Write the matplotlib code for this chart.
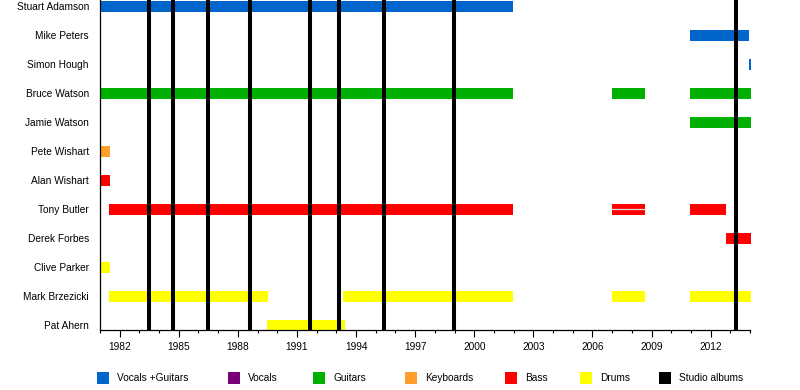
import matplotlib
matplotlib.use("Agg")
import matplotlib.pyplot as plt
from matplotlib.patches import Rectangle

plt.rcParams['font.family'] = ['Liberation Sans', 'DejaVu Sans']

# ------------------------------
# data
# ------------------------------
members = ["Stuart Adamson", "Mike Peters", "Simon Hough", "Bruce Watson",
           "Jamie Watson", "Pete Wishart", "Alan Wishart", "Tony Butler",
           "Derek Forbes", "Clive Parker", "Mark Brzezicki", "Pat Ahern"]

# (member, start, end, role)
periods = [
    ("Stuart Adamson", 1981.0, 2001.98, "Vocals +Guitars"),
    ("Mike Peters", 2010.93, 2013.93, "Vocals +Guitars"),
    ("Simon Hough", 2013.95, 2014.05, "Vocals +Guitars"),
    ("Bruce Watson", 1981.0, 2001.98, "Guitars"),
    ("Bruce Watson", 2007.0, 2008.69, "Guitars"),
    ("Bruce Watson", 2010.93, 2014.05, "Guitars"),
    ("Jamie Watson", 2010.93, 2014.05, "Guitars"),
    ("Pete Wishart", 1981.0, 1981.5, "Keyboards"),
    ("Alan Wishart", 1981.0, 1981.5, "Bass"),
    ("Tony Butler", 1981.45, 2001.98, "Bass"),
    ("Tony Butler", 2007.0, 2008.69, "Bass"),
    ("Tony Butler", 2010.93, 2012.8, "Bass"),
    ("Derek Forbes", 2012.78, 2014.05, "Bass"),
    ("Clive Parker", 1981.0, 1981.5, "Drums"),
    ("Mark Brzezicki", 1981.45, 1989.52, "Drums"),
    ("Mark Brzezicki", 1993.35, 2001.98, "Drums"),
    ("Mark Brzezicki", 2007.0, 2008.69, "Drums"),
    ("Mark Brzezicki", 2010.93, 2014.05, "Drums"),
    ("Pat Ahern", 1989.47, 1993.45, "Drums"),
]

# studio album release dates
albums = [1983.5, 1984.72, 1986.5, 1988.63, 1991.67, 1993.13, 1995.43, 1998.98, 2013.27]

roles = ["Vocals +Guitars", "Vocals", "Guitars", "Keyboards", "Bass", "Drums", "Studio albums"]
role_colors = {
    "Vocals +Guitars": "#0066cc",
    "Vocals": "#770077",
    "Guitars": "#00b000",
    "Keyboards": "#ff9f2a",
    "Bass": "#ff0000",
    "Drums": "#ffff00",
    "Studio albums": "#000000",
}

# ------------------------------
# plot
# ------------------------------
fig = plt.figure(figsize=(8, 3.9), dpi=100)
ax = fig.add_axes([0.125, 1 - 330 / 390, 0.8125, 330 / 390])

row = {m: i for i, m in enumerate(members)}
for m, s, e, r in periods:
    ax.barh(row[m], e - s, left=s, height=0.38, color=role_colors[r],
            linewidth=0, zorder=2, clip_on=False)

# thin split line in the 2007-2009 bass bar
for m, s, e, r in periods:
    if m == "Tony Butler" and s == 2007.0:
        ax.plot([s, e], [row[m], row[m]], color="#dddddd", lw=0.9, zorder=3)

for a in albums:
    ax.axvline(a, color="black", lw=2.9, zorder=4)

ax.set_xlim(1981, 2014)
ax.set_ylim(11.17, -0.21)
ax.set_yticks(range(len(members)))
ax.set_yticklabels(members, fontsize=7.3)
ax.tick_params(axis="y", length=0, pad=8)

ax.set_xticks(range(1982, 2014, 3))
ax.set_xticks(range(1981, 2015), minor=True)
ax.tick_params(axis="x", which="major", length=5, width=0.8, labelsize=7.3, pad=3.5)
ax.tick_params(axis="x", which="minor", length=2.5, width=0.8)

for side in ["top", "right"]:
    ax.spines[side].set_visible(False)
for side in ["left", "bottom"]:
    ax.spines[side].set_linewidth(0.9)

# legend
leg_x = [97, 228, 313, 405, 505, 580, 659]
for x, r in zip(leg_x, roles):
    fig.add_artist(Rectangle((x / 800, 1 - 384 / 390), 12 / 800, 12 / 390,
                             transform=fig.transFigure, color=role_colors[r], lw=0))
    fig.text((x + 20) / 800, 1 - 378 / 390, r, fontsize=7.3, va="center", ha="left")

fig.savefig("out.png", dpi=100)
